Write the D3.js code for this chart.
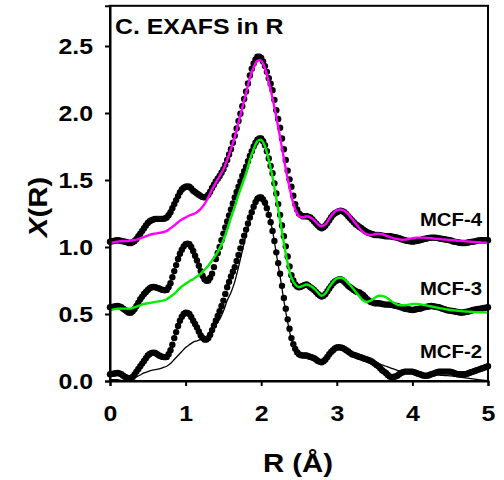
<!DOCTYPE html>
<html>
<head>
<meta charset="utf-8">
<script src="https://cdn.jsdelivr.net/npm/d3@7"></script>
<style>
  html, body { margin: 0; padding: 0; background: #fff; }
  svg { display: block; }
  text { font-family: "Liberation Sans", Arial, sans-serif; font-weight: bold; fill: #000; }
</style>
</head>
<body>
<svg id="chart" width="504" height="480"></svg>
<script>
// ---------------- data ----------------
const xTicks = [0, 1, 2, 3, 4, 5];
const yTicks = [0.0, 0.5, 1.0, 1.5, 2.0, 2.5];
const seriesLabels = ["MCF-4", "MCF-3", "MCF-2"];
const titleText = "C. EXAFS in R";

// R grid of the measured points (0 to 5 Å, step 0.025) and of the fits (step 0.05)
const rData = d3.range(201).map(i => +(i * 0.025).toFixed(3));
const rFit = d3.range(101).map(i => +(i * 0.05).toFixed(2));

const mcf2Data = [
0.050,0.053,0.055,0.058, 0.060,0.056,0.050,0.040, 0.030,0.024,0.020,0.022, 0.030,0.048,0.070,0.090, 0.110,0.130,0.150,0.170, 0.190,0.202,0.210,0.212, 0.210,0.200,0.190,0.184, 0.180,0.178,0.180,0.200, 0.230,0.270,0.320,0.365, 0.410,0.450,0.480,0.500,
0.510,0.508,0.500,0.478, 0.450,0.425,0.400,0.370, 0.340,0.322,0.310,0.310, 0.320,0.345,0.380,0.415, 0.450,0.485,0.520,0.560, 0.600,0.650,0.700,0.740, 0.780,0.815,0.850,0.895, 0.940,0.990,1.040,1.085, 1.130,1.175,1.220,1.260, 1.300,1.335,1.360,1.370,
1.370,1.355,1.330,1.290, 1.240,1.185,1.120,1.045, 0.960,0.880,0.800,0.710, 0.620,0.540,0.460,0.390, 0.320,0.275,0.240,0.215, 0.200,0.193,0.190,0.190, 0.190,0.185,0.180,0.175, 0.170,0.160,0.150,0.143, 0.140,0.148,0.160,0.180, 0.200,0.217,0.230,0.242,
0.250,0.252,0.250,0.246, 0.240,0.230,0.220,0.210, 0.200,0.195,0.190,0.185, 0.180,0.175,0.170,0.165, 0.160,0.155,0.150,0.140, 0.130,0.120,0.110,0.095, 0.080,0.070,0.060,0.045, 0.033,0.030,0.030,0.034, 0.040,0.050,0.060,0.066, 0.070,0.070,0.070,0.070,
0.070,0.066,0.060,0.055, 0.050,0.045,0.040,0.040, 0.040,0.045,0.050,0.055, 0.060,0.065,0.070,0.070, 0.070,0.070,0.070,0.070, 0.070,0.065,0.060,0.055, 0.050,0.050,0.050,0.050, 0.050,0.055,0.060,0.065, 0.070,0.075,0.080,0.085, 0.090,0.095,0.100,0.105,
0.110];

const mcf3Data = [
0.550,0.553,0.555,0.558, 0.560,0.557,0.550,0.540, 0.530,0.518,0.510,0.510, 0.520,0.538,0.560,0.585, 0.610,0.630,0.650,0.665, 0.680,0.692,0.700,0.702, 0.700,0.695,0.690,0.684, 0.680,0.677,0.680,0.700, 0.730,0.775,0.820,0.865, 0.910,0.950,0.980,1.005,
1.020,1.025,1.020,1.000, 0.970,0.935,0.900,0.860, 0.820,0.785,0.760,0.748, 0.750,0.770,0.800,0.850, 0.910,0.955,1.000,1.050, 1.100,1.145,1.190,1.235, 1.280,1.325,1.370,1.410, 1.450,1.490,1.530,1.565, 1.600,1.640,1.680,1.715, 1.750,1.778,1.800,1.810,
1.810,1.790,1.760,1.715, 1.660,1.605,1.550,1.475, 1.400,1.320,1.240,1.160, 1.080,1.005,0.930,0.855, 0.790,0.750,0.720,0.705, 0.700,0.703,0.710,0.717, 0.720,0.712,0.700,0.690, 0.680,0.665,0.650,0.638, 0.630,0.637,0.650,0.670, 0.690,0.710,0.730,0.742,
0.750,0.757,0.760,0.752, 0.740,0.725,0.710,0.700, 0.690,0.680,0.670,0.665, 0.660,0.650,0.640,0.625, 0.610,0.600,0.590,0.585, 0.580,0.580,0.580,0.578, 0.575,0.572,0.570,0.570, 0.570,0.568,0.565,0.562, 0.560,0.555,0.550,0.545, 0.540,0.537,0.535,0.532,
0.530,0.532,0.535,0.538, 0.540,0.545,0.550,0.552, 0.555,0.558,0.560,0.558, 0.555,0.552,0.550,0.545, 0.540,0.535,0.530,0.527, 0.525,0.522,0.520,0.517, 0.515,0.512,0.510,0.512, 0.515,0.517,0.520,0.525, 0.530,0.532,0.535,0.537, 0.540,0.542,0.545,0.547,
0.550];

const mcf4Data = [
1.040,1.043,1.045,1.048, 1.050,1.048,1.045,1.042, 1.040,1.035,1.030,1.030, 1.035,1.045,1.060,1.080, 1.100,1.120,1.140,1.160, 1.180,1.192,1.200,1.205, 1.210,1.210,1.210,1.210, 1.210,1.213,1.220,1.237, 1.260,1.290,1.320,1.350, 1.380,1.408,1.430,1.443,
1.450,1.452,1.450,1.437, 1.420,1.410,1.400,1.390, 1.380,1.374,1.370,1.376, 1.390,1.413,1.440,1.465, 1.490,1.510,1.530,1.555, 1.580,1.613,1.650,1.690, 1.730,1.778,1.830,1.885, 1.940,1.995,2.050,2.105, 2.160,2.220,2.280,2.330, 2.370,2.400,2.420,2.420,
2.410,2.385,2.350,2.307, 2.260,2.218,2.170,2.098, 2.020,1.955,1.890,1.810, 1.730,1.650,1.570,1.505, 1.450,1.383,1.320,1.280, 1.250,1.238,1.230,1.230, 1.230,1.227,1.220,1.207, 1.190,1.175,1.160,1.148, 1.140,1.147,1.160,1.180, 1.200,1.222,1.240,1.252,
1.260,1.267,1.270,1.267, 1.260,1.247,1.230,1.215, 1.200,1.185,1.170,1.160, 1.150,1.140,1.130,1.120, 1.110,1.105,1.100,1.095, 1.090,1.090,1.090,1.088, 1.085,1.082,1.080,1.080, 1.080,1.078,1.075,1.073, 1.070,1.065,1.060,1.055, 1.050,1.047,1.045,1.042,
1.040,1.042,1.045,1.048, 1.050,1.055,1.060,1.062, 1.065,1.068,1.070,1.070, 1.070,1.068,1.065,1.062, 1.060,1.058,1.055,1.052, 1.050,1.045,1.040,1.038, 1.035,1.032,1.030,1.030, 1.030,1.032,1.035,1.038, 1.040,1.042,1.045,1.048, 1.050,1.050,1.050,1.050,
1.050];

const mcf2Fit = [
0.01,0.01,0.01,0.005,0.0,0.0,0.015,0.03,0.045,0.06,
0.07,0.08,0.085,0.09,0.10,0.11,0.13,0.16,0.19,0.22,
0.25,0.27,0.29,0.30,0.31,0.32,0.34,0.38,0.42,0.46,
0.52,0.60,0.66,0.74,0.85,0.97,1.09,1.20,1.29,1.35,
1.37,1.34,1.25,1.12,0.95,0.78,0.60,0.44,0.31,0.23,
0.20,0.19,0.19,0.18,0.17,0.155,0.145,0.16,0.195,0.225,
0.245,0.25,0.24,0.225,0.21,0.20,0.19,0.18,0.17,0.16,
0.145,0.13,0.12,0.11,0.10,0.09,0.08,0.075,0.07,0.065,
0.06,0.058,0.055,0.053,0.05,0.048,0.046,0.044,0.042,0.04,
0.038,0.035,0.032,0.028,0.024,0.02,0.016,0.012,0.008,0.005,
0.002];

const mcf3Fit = [
0.53,0.535,0.54,0.54,0.54,0.54,0.545,0.555,0.565,0.575,
0.58,0.585,0.59,0.595,0.60,0.61,0.63,0.65,0.68,0.705,
0.725,0.745,0.76,0.78,0.80,0.83,0.86,0.90,0.94,0.99,
1.05,1.13,1.22,1.30,1.39,1.47,1.55,1.65,1.73,1.79,
1.80,1.75,1.65,1.52,1.36,1.20,1.03,0.88,0.77,0.72,
0.70,0.71,0.72,0.71,0.69,0.66,0.635,0.655,0.70,0.74,
0.765,0.77,0.76,0.73,0.70,0.665,0.63,0.60,0.59,0.60,
0.62,0.635,0.635,0.625,0.605,0.585,0.57,0.565,0.565,0.57,
0.575,0.575,0.572,0.568,0.562,0.556,0.55,0.545,0.54,0.535,
0.53,0.527,0.524,0.521,0.519,0.517,0.515,0.514,0.513,0.512,
0.51];

const mcf4Fit = [
1.03,1.035,1.04,1.045,1.045,1.045,1.05,1.055,1.065,1.075,
1.085,1.095,1.10,1.105,1.11,1.12,1.14,1.16,1.185,1.205,
1.22,1.235,1.245,1.26,1.285,1.32,1.37,1.43,1.48,1.53,
1.58,1.65,1.73,1.82,1.93,2.04,2.15,2.26,2.34,2.39,
2.39,2.33,2.23,2.11,1.97,1.82,1.66,1.51,1.38,1.28,
1.23,1.22,1.23,1.22,1.20,1.17,1.155,1.17,1.21,1.25,
1.275,1.28,1.27,1.245,1.21,1.175,1.14,1.11,1.095,1.09,
1.095,1.10,1.095,1.085,1.075,1.065,1.06,1.055,1.055,1.06,
1.065,1.07,1.07,1.07,1.068,1.065,1.062,1.06,1.057,1.055,
1.052,1.05,1.047,1.045,1.042,1.04,1.038,1.036,1.034,1.032,
1.03];

// ---------------- layout ----------------
const svg = d3.select("#chart");
const L = 110, R = 488, B = 381;
const x = d3.scaleLinear().domain([0, 5]).range([L, R]);
const y = d3.scaleLinear().domain([0, 2.8]).range([B, 5.8]);
const SX = 1.13; // horizontal stretch of the lettering

// measured points (dots)
const dataSets = [mcf2Data, mcf3Data, mcf4Data];
dataSets.forEach(arr => {
  svg.append("g").selectAll("circle")
    .data(arr.map((v, i) => [rData[i], v]))
    .join("circle")
    .attr("cx", d => x(d[0]))
    .attr("cy", d => y(d[1]))
    .attr("r", 3.2)
    .attr("fill", "#000");
});

// fits
const line = d3.line().x(d => x(d[0])).y(d => y(d[1])).curve(d3.curveCatmullRom.alpha(0.5));
const fits = [
  { v: mcf2Fit, c: "#000000", w: 1.3 },
  { v: mcf3Fit, c: "#00ee00", w: 2.4 },
  { v: mcf4Fit, c: "#ff00ff", w: 2.4 }
];
fits.forEach(f => {
  svg.append("path")
    .datum(f.v.map((v, i) => [rFit[i], v]))
    .attr("d", line)
    .attr("fill", "none")
    .attr("stroke", f.c)
    .attr("stroke-width", f.w)
    .attr("stroke-linejoin", "round");
});

// frame
svg.append("rect")
  .attr("x", L).attr("y", y(2.8))
  .attr("width", R - L).attr("height", B - y(2.8))
  .attr("fill", "none").attr("stroke", "#000").attr("stroke-width", 2);

// axes
const yAxis = d3.axisLeft(y).tickValues(yTicks).tickFormat(d3.format(".1f")).tickSize(5).tickPadding(10);
const gy = svg.append("g").attr("transform", `translate(${L},0)`).call(yAxis);
const xAxis = d3.axisBottom(x).tickValues(xTicks).tickFormat(d3.format("d")).tickSize(5).tickPadding(19);
const gx = svg.append("g").attr("transform", `translate(0,${B})`).call(xAxis);
[gx, gy].forEach(g => {
  g.select(".domain").attr("stroke", "#000").attr("stroke-width", 2);
  g.selectAll(".tick line").attr("stroke", "#000").attr("stroke-width", 2);
  g.selectAll(".tick text")
    .attr("transform", `scale(${SX},1)`)
    .style("font-family", '"Liberation Sans", Arial, sans-serif')
    .style("font-weight", "bold")
    .style("font-size", "22px")
    .attr("fill", "#000");
});

function label(tx, ty, txt, size, anchor, rot) {
  const t = svg.append("text")
    .attr("transform", `translate(${tx},${ty})${rot ? ` rotate(${rot})` : ""} scale(${SX},1)`)
    .attr("text-anchor", anchor)
    .style("font-size", size + "px");
  return t.text(txt);
}

// title
label(115, 33.5, titleText, 22, "start");

// series labels
label(482, 226, seriesLabels[0], 18, "end");
label(482, 295, seriesLabels[1], 18, "end");
label(482, 358, seriesLabels[2], 18, "end");

// axis titles
label(298, 472, "R (Å)", 26, "middle");
const yt = svg.append("text")
  .attr("transform", `translate(47,207) rotate(-90) scale(${SX},1)`)
  .attr("text-anchor", "middle")
  .style("font-size", "26px");
yt.append("tspan").style("font-style", "italic").text("X");
yt.append("tspan").text("(R)");
</script>
</body>
</html>
